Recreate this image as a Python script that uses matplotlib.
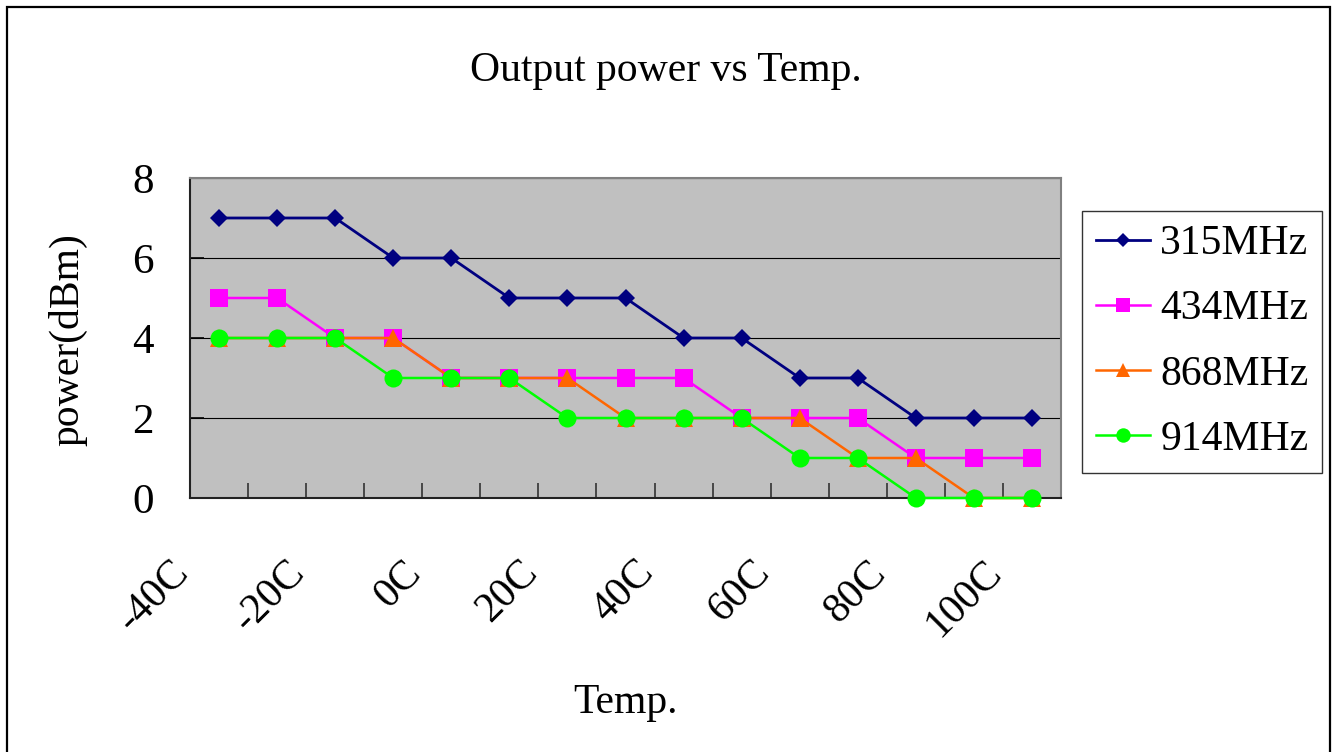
import matplotlib
matplotlib.use('Agg')
import matplotlib.pyplot as plt
import matplotlib.transforms as mtransforms
from matplotlib.patches import Rectangle

# Data
temps = ['-40C', '-30C', '-20C', '-10C', '0C', '10C', '20C', '30C',
         '40C', '50C', '60C', '70C', '80C', '90C', '100C']
p315 = [7, 7, 7, 6, 6, 5, 5, 5, 4, 4, 3, 3, 2, 2, 2]
p434 = [5, 5, 4, 4, 3, 3, 3, 3, 3, 2, 2, 2, 1, 1, 1]
p868 = [4, 4, 4, 4, 3, 3, 3, 2, 2, 2, 2, 1, 1, 0, 0]
p914 = [4, 4, 4, 3, 3, 3, 2, 2, 2, 2, 1, 1, 0, 0, 0]

series = [
    ('315MHz', p315, '#000080', 'D', 9.5, 2.0),
    ('434MHz', p434, '#FF00FF', 's', 12.5, 1.8),
    ('868MHz', p868, '#FF6600', '^', 13.0, 1.8),
    ('914MHz', p914, '#00FF00', 'o', 13.0, 1.8),
]

W, H = 1339, 752
plt.rcParams['font.family'] = ['Liberation Serif', 'DejaVu Serif']

fig = plt.figure(figsize=(W / 100, H / 100), dpi=100)
fig.patch.set_facecolor('white')

# outer chart border
fig.patches.append(Rectangle((7 / W, -0.02), (1330 - 7) / W, 1.02 - 7 / H,
                             transform=fig.transFigure, fill=False,
                             edgecolor='black', linewidth=1.6))

ax = fig.add_axes([190 / W, 1 - 498 / H, (1061 - 190) / W, (498 - 178) / H])
ax.set_facecolor('#C0C0C0')

x = list(range(len(temps)))
for name, vals, color, marker, ms, lw in series:
    ax.plot(x, vals, color=color, linewidth=lw, marker=marker,
            markersize=ms, markeredgewidth=0, label=name, zorder=3,
            clip_on=False)

ax.set_xlim(-0.5, len(temps) - 0.5)
ax.set_ylim(0, 8)
ax.set_yticks([0, 2, 4, 6, 8])
ax.yaxis.grid(True, color='black', linewidth=0.8)
ax.set_axisbelow(True)

ax.set_xticks(x[::2])
ax.set_xticklabels(temps[::2], rotation=45, ha='right', va='top', fontsize=30)
ax.set_xticks([i + 0.5 for i in range(len(temps) - 1)], minor=True)
ax.tick_params(axis='x', which='major', length=0, pad=40)
ax.tick_params(axis='x', which='minor', direction='in', length=10.5,
               width=1.2, color='#333333')
ax.tick_params(axis='y', direction='in', length=10, width=1.2,
               labelsize=31, pad=26)
offset = mtransforms.ScaledTranslation(-0.22, 0, fig.dpi_scale_trans)
for lbl in ax.get_xticklabels():
    lbl.set_transform(lbl.get_transform() + offset)

for side in ['top', 'right']:
    ax.spines[side].set_color('#808080')
    ax.spines[side].set_linewidth(1.5)
for side in ['left', 'bottom']:
    ax.spines[side].set_color('#222222')
    ax.spines[side].set_linewidth(1.5)

fig.text(666 / W, 1 - 81 / H, 'Output power vs Temp.', ha='center',
         va='baseline', fontsize=30)
fig.text(625 / W, 1 - 713 / H, 'Temp.', ha='center', va='baseline',
         fontsize=30)
fig.text(68 / W, 1 - 340 / H, 'power(dBm)', ha='center', va='center',
         rotation=90, fontsize=30)

leg = fig.legend(loc='upper left', bbox_to_anchor=(1082 / W, 1 - 211 / H),
                 fontsize=30, frameon=True, fancybox=False, borderpad=0.33,
                 handlelength=1.3, handletextpad=0.25, labelspacing=0.64,
                 markerscale=0.8, borderaxespad=0)
leg.get_frame().set_edgecolor('black')
leg.get_frame().set_linewidth(1.0)

fig.savefig('out.png', dpi=100)
